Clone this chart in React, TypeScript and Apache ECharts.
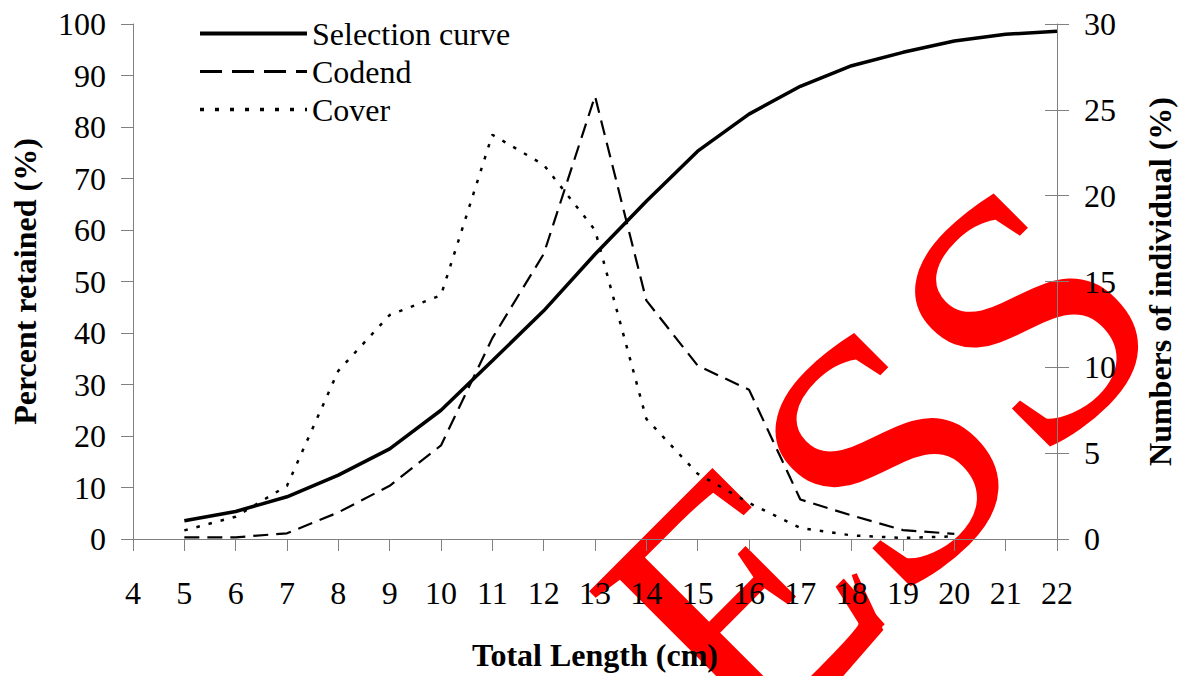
import { useEffect, useRef } from "react";
import * as echarts from "echarts";

// Total length classes (cm)
const lengths = [5, 6, 7, 8, 9, 10, 11, 12, 13, 14, 15, 16, 17, 18, 19, 20, 21, 22];
// Selection curve, percent retained (left axis)
const selectionCurve = [3.55, 5.35, 8.2, 12.4, 17.5, 25.0, 34.6, 44.3, 55.3, 65.6, 75.3, 82.5, 87.9, 91.9, 94.5, 96.7, 98.0, 98.6];
// Catch length classes (cm)
const catchLengths = [5, 6, 7, 8, 9, 10, 11, 12, 13, 14, 15, 16, 17, 18, 19, 20];
// Numbers of individual (%), right axis
const codend = [0.1, 0.1, 0.33, 1.55, 3.1, 5.45, 11.7, 16.6, 25.8, 13.9, 10.1, 8.7, 2.3, 1.37, 0.52, 0.3];
const cover = [0.5, 1.3, 3.1, 9.8, 13.05, 14.2, 23.55, 21.8, 18.0, 7.0, 3.8, 2.1, 0.64, 0.21, 0.06, 0.15];

const xTicks = { min: 4, max: 22, interval: 1 };
const leftTicks = { min: 0, max: 100, interval: 10 };
const rightTicks = { min: 0, max: 30, interval: 5 };

const FONT = "Liberation Serif";

export default function App() {
  const ref = useRef<HTMLDivElement>(null);

  useEffect(() => {
    if (!ref.current) return;
    const chart = echarts.init(ref.current, null, { renderer: "svg" });
    const grey = "#808080";
    const labelStyle = () => ({ color: "#000", fontFamily: FONT, fontSize: 32 });
    const nameStyle = () => ({ color: "#000", fontFamily: FONT, fontSize: 32, fontWeight: "bold" });
    const hiddenSymbol = { color: "rgba(0,0,0,0)", borderWidth: 0, opacity: 0 };

    chart.setOption({
      animation: false,
      backgroundColor: "#fff",
      textStyle: { fontFamily: FONT },
      grid: { left: 133, right: 128, top: 24, bottom: 133, containLabel: false },
      legend: {
        orient: "vertical",
        left: 193,
        top: 12,
        itemWidth: 107,
        itemHeight: 14,
        itemGap: 5,
        itemStyle: hiddenSymbol,
        textStyle: { color: "#000", fontFamily: FONT, fontSize: 32, lineHeight: 33 },
        data: [
          { name: "Selection curve", itemStyle: hiddenSymbol, lineStyle: { width: 4, type: "solid", color: "#000" } },
          { name: "Codend", itemStyle: hiddenSymbol, lineStyle: { width: 3, type: [22, 10], color: "#000" } },
          { name: "Cover", itemStyle: hiddenSymbol, lineStyle: { width: 3.5, type: [4, 11], color: "#000" } },
        ],
      },
      xAxis: {
        type: "value",
        ...xTicks,
        name: "Total Length (cm)",
        nameLocation: "middle",
        nameGap: 100,
        nameTextStyle: nameStyle(),
        axisLine: { show: true, onZero: false, lineStyle: { color: grey, width: 1 } },
        axisTick: { show: true, inside: false, length: 12, lineStyle: { color: grey } },
        axisLabel: { ...labelStyle(), margin: 38 },
        splitLine: { show: false },
      },
      yAxis: [
        {
          type: "value",
          position: "left",
          ...leftTicks,
          name: "Percent retained (%)",
          nameLocation: "middle",
          nameRotate: 90,
          nameGap: 92,
          nameTextStyle: nameStyle(),
          axisLine: { show: true, lineStyle: { color: grey, width: 1 } },
          axisTick: { show: true, inside: false, length: 12, lineStyle: { color: grey } },
          axisLabel: { ...labelStyle(), margin: 27 },
          splitLine: { show: false },
        },
        {
          type: "value",
          position: "right",
          ...rightTicks,
          name: "Numbers of individual (%)",
          nameLocation: "middle",
          nameRotate: 90,
          nameGap: 87,
          nameTextStyle: nameStyle(),
          axisLine: { show: true, lineStyle: { color: grey, width: 1 } },
          axisTick: { show: true, inside: false, length: 12, lineStyle: { color: grey } },
          axisLabel: { ...labelStyle(), margin: 27 },
          splitLine: { show: false },
        },
        {
          type: "value",
          position: "right",
          ...rightTicks,
          axisLine: { show: false },
          axisTick: { show: true, inside: true, length: 12, lineStyle: { color: grey } },
          axisLabel: { show: false },
          splitLine: { show: false },
        },
      ],
      graphic: [
        {
          type: "text",
          z: -10,
          x: 878,
          y: 462,
          rotation: Math.PI / 4,
          silent: true,
          style: {
            text: "ESS",
            fill: "#ff0000",
            fontFamily: FONT,
            fontSize: 355,
            textAlign: "center",
            textVerticalAlign: "middle",
          },
        },
        {
          type: "polygon",
          z: -10,
          silent: true,
          shape: {
            points: [
              [851.7, 575],
              [856.7, 573.3],
              [883.3, 630],
              [843.3, 676],
              [821.7, 676],
              [846.7, 653.3],
              [858.3, 626.7],
              [860, 600],
            ],
          },
          style: { fill: "#ff0000" },
        },
      ],
      series: [
        {
          name: "Selection curve",
          type: "line",
          xAxisIndex: 0,
          yAxisIndex: 0,
          symbol: "none",
          lineStyle: { color: "#000", width: 3.5, type: "solid" },
          itemStyle: { color: "#000" },
          data: lengths.map((l, i) => [l, selectionCurve[i]]),
          z: 5,
        },
        {
          name: "Codend",
          type: "line",
          xAxisIndex: 0,
          yAxisIndex: 1,
          symbol: "none",
          lineStyle: { color: "#000", width: 2.2, type: [15, 8] },
          itemStyle: { color: "#000" },
          data: catchLengths.map((l, i) => [l, codend[i]]),
          z: 4,
        },
        {
          name: "Cover",
          type: "line",
          xAxisIndex: 0,
          yAxisIndex: 1,
          symbol: "none",
          lineStyle: { color: "#000", width: 2.5, type: [3.5, 9] },
          itemStyle: { color: "#000" },
          data: catchLengths.map((l, i) => [l, cover[i]]),
          z: 3,
        },
      ],
    });

    return () => chart.dispose();
  }, []);

  return (
    <div
      ref={ref}
      style={{ position: "fixed", left: 0, top: 0, width: 1185, height: 676, background: "#fff" }}
    />
  );
}
